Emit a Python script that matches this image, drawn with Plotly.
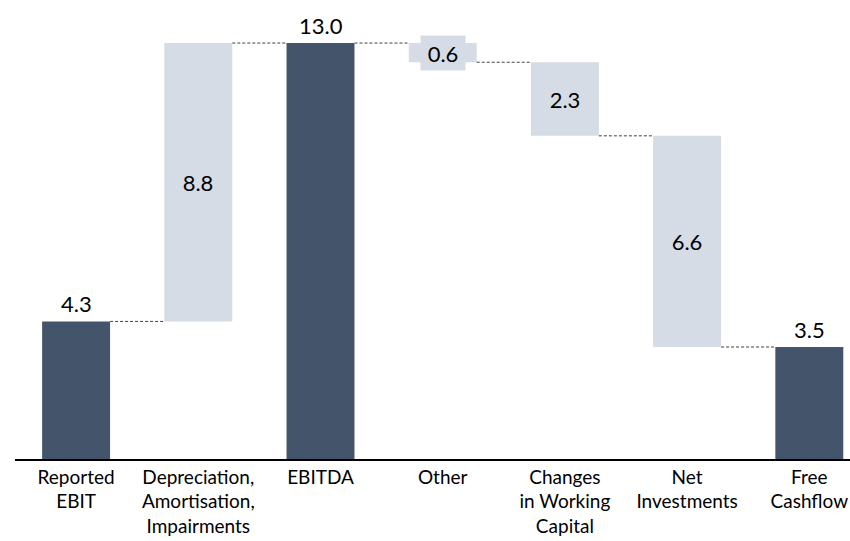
import plotly.graph_objects as go

categories = ["Reported<br>EBIT", "Depreciation,<br>Amortisation,<br>Impairments", "EBITDA",
              "Other", "Changes<br>in Working<br>Capital", "Net<br>Investments", "Free<br>Cashflow"]
values = [4.3, 8.8, 13.0, -0.6, -2.3, -6.6, 3.5]
measures = ["total", "relative", "total", "relative", "relative", "relative", "total"]
labels = ["4.3", "8.8", "13.0", "0.6", "2.3", "6.6", "3.5"]

DARK = "#44546A"
LIGHT = "#D6DCE5"
FONT = "Lato"
BW = 0.556

# compute bar bases / heights from the data
bases, heights, levels = [], [], []
running = 0.0
for i, (v, m) in enumerate(zip(values, measures)):
    if m == "total":
        bases.append(0.0)
        heights.append(v)
        running = v
    else:
        start = running
        end = running + v
        if i + 1 < len(values) and measures[i + 1] == "total":
            end = values[i + 1]
        bases.append(min(start, end))
        heights.append(abs(end - start))
        running = end
    levels.append(running)

colors = [DARK if m == "total" else LIGHT for m in measures]
xs = list(range(len(categories)))

fig = go.Figure()
fig.add_trace(go.Bar(x=xs, y=heights, base=bases, width=BW,
                     marker=dict(color=colors, line=dict(width=0)),
                     hoverinfo="skip", showlegend=False))

# connectors
for i in range(len(xs) - 1):
    fig.add_shape(type="line", xref="x", yref="y",
                  x0=xs[i] + BW / 2, x1=xs[i + 1] - BW / 2,
                  y0=levels[i], y1=levels[i],
                  line=dict(color="#404040", width=1, dash="3px,2px"))

# value labels
for i, (m, lab) in enumerate(zip(measures, labels)):
    if m == "total":
        fig.add_annotation(x=xs[i], y=heights[i], text=lab, showarrow=False,
                           yanchor="bottom", yshift=2,
                           font=dict(family=FONT, size=22, color="#000000"))
    else:
        mid = bases[i] + heights[i] / 2
        fig.add_annotation(x=xs[i], y=mid, text=lab, showarrow=False,
                           yanchor="middle", width=42, height=32,
                           bgcolor=LIGHT,
                           font=dict(family=FONT, size=22, color="#000000"))

fig.update_layout(
    width=850, height=541,
    margin=dict(l=15, r=0, t=20, b=82),
    plot_bgcolor="white", paper_bgcolor="white",
    bargap=0.44,
    xaxis=dict(range=[-0.5, 6.333], tickmode="array", tickvals=xs, ticktext=categories,
               showline=True, linecolor="#000000", linewidth=1.5,
               showgrid=False, zeroline=False, ticks="",
               tickfont=dict(family=FONT, size=19, color="#000000")),
    yaxis=dict(range=[0, 13.72], visible=False, showgrid=False, zeroline=False),
)

fig.write_html("out.html", config={"displayModeBar": False},
               post_script="document.body.style.margin='0px';")
